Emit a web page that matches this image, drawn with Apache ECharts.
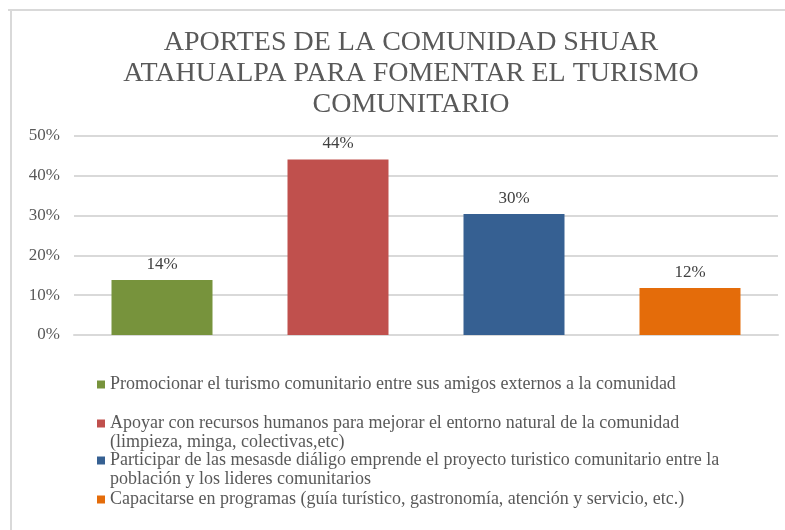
<!DOCTYPE html>
<html>
<head>
<meta charset="utf-8">
<script src="https://cdn.jsdelivr.net/npm/echarts@6/dist/echarts.min.js"></script>
<style>
html,body{margin:0;padding:0;background:#fff;}
#chart{width:785px;height:530px;}
</style>
</head>
<body>
<div id="chart"></div>
<script>
const titleText = 'APORTES DE LA COMUNIDAD SHUAR\nATAHUALPA PARA FOMENTAR EL TURISMO\nCOMUNITARIO';
const categories = ['c1', 'c2', 'c3', 'c4'];
const seriesNames = [
  'Promocionar el turismo comunitario entre sus amigos externos a la comunidad',
  'Apoyar con recursos humanos para mejorar el entorno natural de la comunidad\n(limpieza, minga, colectivas,etc)',
  'Participar de las mesasde diáligo emprende el proyecto turistico comunitario entre la\npoblación y los lideres comunitarios',
  'Capacitarse en programas (guía turístico, gastronomía, atención y servicio, etc.)'
];
const values = [13.8, 44.1, 30.4, 11.8];
const colors = ['#77933c', '#c0504d', '#366092', '#e46c0a'];
const yTicks = [0, 10, 20, 30, 40, 50];

const serif = '"Liberation Serif", "DejaVu Serif", serif';
const chart = echarts.init(document.getElementById('chart'));

const series = seriesNames.map((name, i) => ({
  name: name,
  type: 'bar',
  stack: 'all',
  barWidth: 101,
  itemStyle: { color: colors[i] },
  label: {
    show: true,
    position: 'top',
    distance: 7,
    fontFamily: serif,
    fontSize: 17,
    color: '#404040',
    formatter: p => Math.round(p.value) + '%'
  },
  data: categories.map((c, j) => (j === i ? values[i] : '-'))
}));

const legendTops = [375, 395, 432, 490];
const legends = seriesNames.map((name, i) => ({
  data: [name],
  orient: 'vertical',
  left: 97,
  top: legendTops[i],
  padding: 0,
  itemWidth: 8,
  itemHeight: 8,
  itemGap: 0,
  icon: 'rect',
  selectedMode: false,
  formatter: n => (n.indexOf('\n') >= 0 ? ' \n' + n : n),
  textStyle: {
    fontFamily: serif,
    fontSize: 18,
    lineHeight: 19,
    color: '#595959'
  }
}));

chart.setOption({
  animation: false,
  backgroundColor: '#fff',
  title: {
    text: titleText,
    left: 406,
    top: 22,
    textAlign: 'center',
    textStyle: {
      fontFamily: serif,
      fontSize: 28,
      fontWeight: 'normal',
      lineHeight: 31,
      color: '#595959'
    }
  },
  grid: { left: 74, right: 7, top: 136, bottom: 195 },
  legend: legends,
  xAxis: {
    type: 'category',
    data: categories,
    axisLine: { show: true, lineStyle: { color: '#d9d9d9', width: 2 } },
    axisTick: { show: false },
    axisLabel: { show: false }
  },
  yAxis: {
    type: 'value',
    min: yTicks[0],
    max: yTicks[yTicks.length - 1],
    interval: 10,
    axisLine: { show: false },
    axisTick: { show: false },
    splitLine: { lineStyle: { color: '#d9d9d9', width: 2 } },
    axisLabel: {
      margin: 14,
      fontFamily: serif,
      fontSize: 17,
      color: '#595959',
      formatter: '{value}%'
    }
  },
  graphic: [
    { type: 'line', shape: { x1: 8, y1: 10, x2: 785, y2: 10 }, style: { stroke: '#d9d9d9', lineWidth: 2 } },
    { type: 'line', shape: { x1: 11, y1: 10, x2: 11, y2: 530 }, style: { stroke: '#d9d9d9', lineWidth: 2 } }
  ],
  series: series
});
</script>
</body>
</html>
